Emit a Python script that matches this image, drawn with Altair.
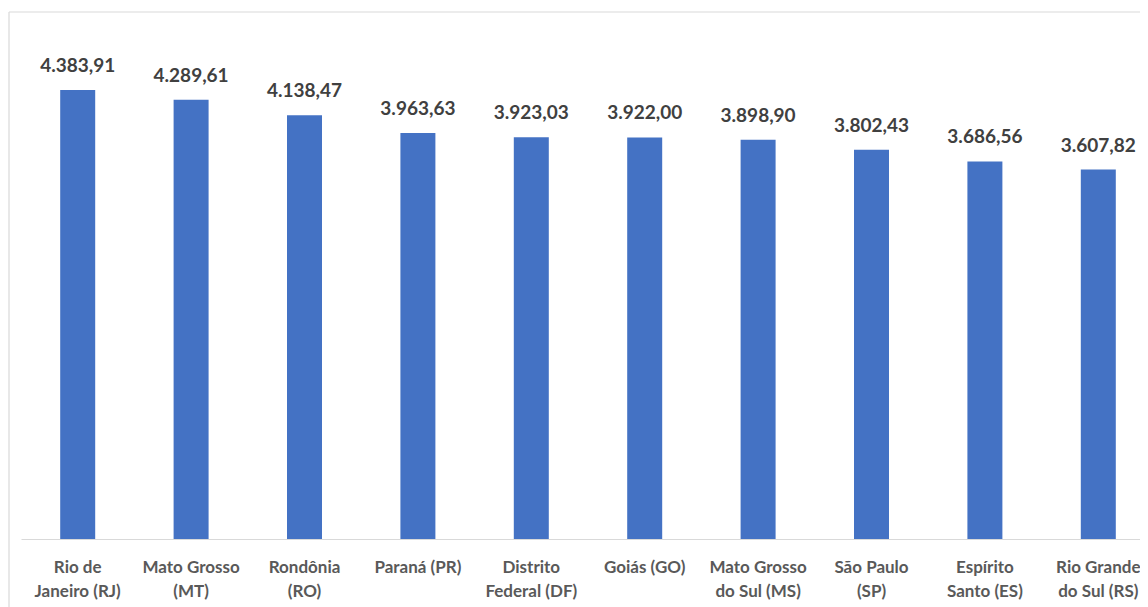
import altair as alt
import pandas as pd

states = [
    "Rio de\nJaneiro (RJ)", "Mato Grosso\n(MT)", "Rondônia\n(RO)", "Paraná (PR)",
    "Distrito\nFederal (DF)", "Goiás (GO)", "Mato Grosso\ndo Sul (MS)", "São Paulo\n(SP)",
    "Espírito\nSanto (ES)", "Rio Grande\ndo Sul (RS)",
]
deaths = [4383.91, 4289.61, 4138.47, 3963.63, 3923.03, 3922.00, 3898.90, 3802.43, 3686.56, 3607.82]


def br(v):
    return f"{v:,.2f}".replace(",", "X").replace(".", ",").replace("X", ".")


df = pd.DataFrame({"estado": states, "obitos": deaths, "rotulo": [br(v) for v in deaths]})

FONT = "Lato"

x = alt.X(
    "estado:N",
    sort=None,
    scale=alt.Scale(range=[0, 1134], paddingInner=0.6914, paddingOuter=0.3457),
    axis=alt.Axis(
        title=None,
        labelAngle=0,
        ticks=False,
        tickSize=0,
        domainColor="#d9d9d9",
        domainWidth=1,
        labelExpr="split(datum.label, '\\n')",
        labelFont=FONT,
        labelFontWeight="bold",
        labelFontSize=17,
        labelColor="#595959",
        labelBaseline="alphabetic",
        labelPadding=33,
        labelLineHeight=24,
        labelOverlap=False,
        labelLimit=0,
        grid=False,
    ),
)
y = alt.Y("obitos:Q", scale=alt.Scale(domain=[0, 5000], nice=False), axis=None)

base = alt.Chart(df)
bars = base.mark_bar(color="#4472C4").encode(x=x, y=y)
labels = base.mark_text(
    font=FONT, fontWeight="bold", fontSize=19, color="#404040",
    baseline="alphabetic", dy=-18,
).encode(x=x, y=y, text="rotulo:N")

frame_df = pd.DataFrame({"k": [0]})
left_line = alt.Chart(frame_df).mark_rule(color="#d9d9d9", strokeWidth=1.2).encode(
    x=alt.value(-12), y=alt.value(-15), y2=alt.value(600)
)
top_line = alt.Chart(frame_df).mark_rule(color="#d9d9d9", strokeWidth=1.2).encode(
    x=alt.value(-12), x2=alt.value(1200), y=alt.value(-15)
)

chart = alt.layer(left_line, top_line, bars, labels).properties(
    width=1119,
    height=512,
    autosize=alt.AutoSizeParams(type="none"),
    padding={"left": 13, "top": 19, "right": 0, "bottom": 68},
).configure_view(strokeWidth=0)

chart.save("out.html", embed_options={"renderer": "svg", "actions": False})
